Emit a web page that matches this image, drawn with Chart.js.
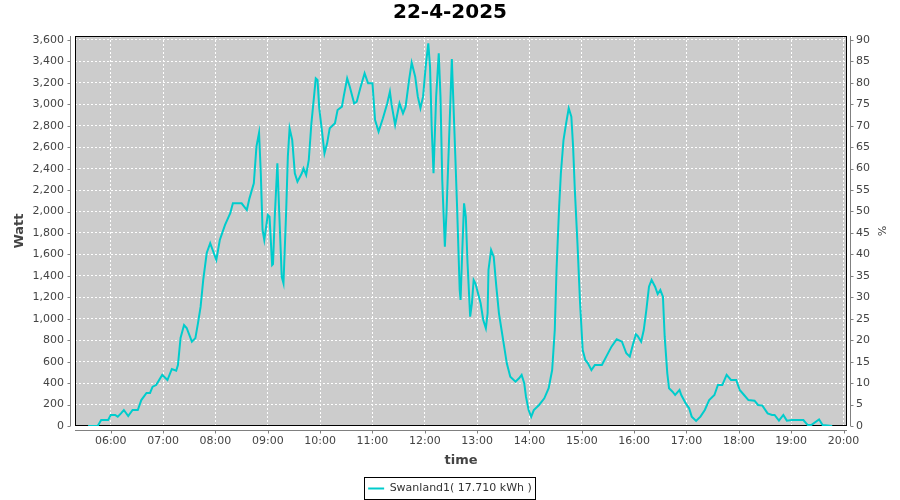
<!DOCTYPE html>
<html>
<head>
<meta charset="utf-8">
<script src="https://cdn.jsdelivr.net/npm/chart.js@4.4.1/dist/chart.umd.min.js"></script>
<style>
  html, body { margin: 0; padding: 0; background: #fff; }
</style>
</head>
<body>
<canvas id="myChart" width="900" height="500"></canvas>
<script>
const chartTitle = "22-4-2025";
const seriesLabel = "Swanland1( 17.710 kWh )";
const hourTicks = [6, 7, 8, 9, 10, 11, 12, 13, 14, 15, 16, 17, 18, 19, 20];
const wattTicks = [0, 200, 400, 600, 800, 1000, 1200, 1400, 1600, 1800, 2000,
  2200, 2400, 2600, 2800, 3000, 3200, 3400, 3600];
const percentTicks = [0, 5, 10, 15, 20, 25, 30, 35, 40, 45, 50, 55, 60, 65, 70,
  75, 80, 85, 90];

const times = [
  "05:34","05:45","05:49","05:57","06:00","06:05","06:08","06:12","06:15","06:20",
  "06:25","06:31","06:35","06:41","06:45","06:48","06:52","06:59","07:05","07:10",
  "07:15","07:17","07:20","07:24","07:27","07:33","07:37","07:40","07:43","07:46",
  "07:50","07:54","08:01","08:05","08:11","08:17","08:20","08:30","08:36","08:39",
  "08:44","08:47","08:50","08:52","08:54","08:56","09:00","09:02","09:05","09:06",
  "09:08","09:11","09:13","09:16","09:18","09:21","09:23","09:25","09:28","09:31",
  "09:34","09:39","09:41","09:44","09:47","09:50","09:53","09:55","09:57","09:59",
  "10:02","10:05","10:08","10:11","10:17","10:20","10:25","10:27","10:31","10:34",
  "10:39","10:42","10:46","10:51","10:55","11:00","11:03","11:07","11:12","11:17",
  "11:20","11:22","11:26","11:31","11:35","11:38","11:42","11:45","11:49","11:52",
  "11:55","11:58","12:01","12:04","12:06","12:08","12:10","12:13","12:16","12:18",
  "12:20","12:23","12:25","12:29","12:31","12:35","12:37","12:40","12:41","12:43",
  "12:45","12:47","12:49","12:52","12:54","12:56","12:58","13:01","13:04","13:07",
  "13:10","13:12","13:13","13:16","13:19","13:22","13:25","13:28","13:31","13:34",
  "13:38","13:44","13:48","13:51","13:54","13:56","13:59","14:02","14:05","14:11",
  "14:17","14:22","14:26","14:29","14:31","14:34","14:36","14:39","14:42","14:45",
  "14:48","14:50","14:52","14:55","14:58","15:01","15:04","15:07","15:11","15:15",
  "15:23","15:28","15:34","15:40","15:46","15:51","15:55","15:59","16:02","16:04",
  "16:08","16:11","16:14","16:17","16:20","16:24","16:27","16:30","16:33","16:35",
  "16:38","16:40","16:44","16:47","16:52","16:54","16:59","17:03","17:06","17:11",
  "17:16","17:21","17:26","17:32","17:36","17:41","17:46","17:51","17:57","18:01",
  "18:06","18:11","18:18","18:22","18:27","18:33","18:38","18:41","18:46","18:51",
  "18:55","19:01","19:14","19:19","19:23","19:32","19:36","19:47"
];

const watts = [
  0,0,56,56,103,103,87,120,149,93,
  149,149,242,308,308,367,382,476,429,532,
  516,569,821,942,914,786,820,960,1113,1362,
  1613,1704,1548,1735,1875,1984,2077,2077,2014,2123,
  2263,2605,2735,2357,1828,1735,1968,1952,1501,1510,
  1952,2450,2014,1392,1331,1984,2512,2776,2667,2357,
  2279,2357,2403,2341,2481,2823,3071,3242,3227,2963,
  2760,2543,2636,2776,2823,2947,2978,3071,3242,3164,
  3009,3024,3149,3289,3196,3196,2854,2745,2870,3009,
  3118,2994,2807,3009,2916,2978,3227,3388,3258,3071,
  2963,3071,3351,3569,3351,2760,2357,3071,3476,3071,
  2294,1672,2014,2947,3422,2512,2045,1268,1175,1641,
  2077,1952,1517,1019,1144,1362,1331,1238,1144,989,
  911,1051,1455,1641,1579,1299,1051,895,740,584,
  460,413,445,476,398,273,149,87,149,196,
  258,352,522,895,1455,2045,2357,2667,2823,2963,
  2885,2605,2201,1704,1144,709,616,584,522,569,
  569,647,740,809,786,678,647,771,855,840,
  786,895,1082,1299,1362,1299,1231,1268,1206,833,
  491,352,320,289,336,289,212,165,87,47,
  87,149,242,289,382,382,476,429,429,336,
  289,242,236,196,190,118,103,103,50,103,
  50,56,56,9,9,62,9,0
];

function toMinutes(t) {
  const p = t.split(":");
  return Number(p[0]) * 60 + Number(p[1]);
}

function hourLabel(m) {
  const h = Math.round(m / 60);
  return (h < 10 ? "0" : "") + h + ":00";
}

const plotFrame = {
  id: "plotFrame",
  beforeDraw(chart) {
    const { ctx, chartArea: a } = chart;
    ctx.save();
    ctx.fillStyle = "#ffffff";
    ctx.fillRect(0, 0, chart.width, chart.height);
    ctx.fillStyle = "#cccccc";
    ctx.fillRect(a.left, a.top, a.right - a.left, a.bottom - a.top);
    ctx.restore();
  },
  beforeDatasetsDraw(chart) {
    const { ctx, chartArea: a, scales } = chart;
    ctx.save();
    ctx.strokeStyle = "#000";
    ctx.lineWidth = 1;
    ctx.strokeRect(Math.round(a.left) + 0.5, Math.round(a.top) + 0.5,
      Math.round(a.right - a.left) - 1, Math.round(a.bottom - a.top) - 1);

    // axis lines sit a few pixels away from the plot, like the original
    ctx.strokeStyle = "#808080";
    const lx = Math.round(a.left) - 4.5;
    const rx = Math.round(a.right) + 3.5;
    const by = Math.round(a.bottom) + 4.5;
    ctx.beginPath();
    ctx.moveTo(lx, a.top); ctx.lineTo(lx, a.bottom);
    ctx.moveTo(rx, a.top); ctx.lineTo(rx, a.bottom);
    ctx.moveTo(a.left, by); ctx.lineTo(a.right, by);
    scales.y.ticks.forEach(t => {
      const py = Math.round(scales.y.getPixelForValue(t.value)) + 0.5;
      ctx.moveTo(lx - 3, py); ctx.lineTo(lx, py);
    });
    scales.y1.ticks.forEach(t => {
      const py = Math.round(scales.y1.getPixelForValue(t.value)) + 0.5;
      ctx.moveTo(rx, py); ctx.lineTo(rx + 3, py);
    });
    scales.x.ticks.forEach(t => {
      const px = Math.round(scales.x.getPixelForValue(t.value)) + 0.5;
      ctx.moveTo(px, by); ctx.lineTo(px, by + 3);
    });
    ctx.stroke();
    ctx.restore();
  },
  afterDraw(chart) {
    const { ctx } = chart;
    const hb = chart.legend.legendHitBoxes[0];
    if (!hb) return;
    const cy = hb.top + hb.height / 2;
    ctx.save();
    ctx.strokeStyle = "#000";
    ctx.lineWidth = 1;
    ctx.strokeRect(Math.round(hb.left) - 3.5, Math.round(cy) - 11.5,
      Math.round(hb.width) + 7, 22);
    ctx.restore();
  }
};

Chart.defaults.font.family = "'DejaVu Sans', sans-serif";

new Chart(document.getElementById("myChart"), {
  type: "line",
  data: {
    datasets: [
      {
        label: seriesLabel,
        data: times.map((t, i) => ({ x: toMinutes(t), y: watts[i] })),
        borderColor: "#00cccc",
        backgroundColor: "#00cccc",
        borderWidth: 2,
        pointRadius: 0,
        tension: 0,
        fill: false,
        yAxisID: "y"
      }
    ]
  },
  options: {
    responsive: false,
    animation: false,
    layout: { padding: { top: 0, left: 0, right: 0, bottom: -4 } },
    plugins: {
      title: {
        display: true,
        text: chartTitle,
        color: "#000",
        font: { size: 20, weight: "bold" },
        padding: { top: 1, bottom: 11 }
      },
      legend: {
        position: "bottom",
        labels: {
          usePointStyle: true,
          pointStyle: "line",
          pointStyleWidth: 16,
          color: "#333",
          font: { size: 11 },
          padding: 10
        }
      },
      tooltip: { enabled: false }
    },
    scales: {
      x: {
        type: "linear",
        position: "bottom",
        min: 319,
        max: 1204,
        afterBuildTicks: scale => {
          scale.ticks = hourTicks.map(h => ({ value: h * 60 }));
        },
        afterFit: scale => { scale.height = 47; },
        ticks: {
          autoSkip: false,
          maxRotation: 0,
          padding: 9,
          color: "#444",
          font: { size: 11 },
          callback: v => hourLabel(v)
        },
        grid: { color: "#ffffff", lineWidth: 1, drawTicks: false, borderDash: [2, 2] },
        border: { display: false, dash: [2, 2] },
        title: {
          display: true,
          text: "time",
          color: "#444",
          font: { size: 13, weight: "bold" },
          padding: { top: 0, bottom: 5 }
        }
      },
      y: {
        position: "left",
        min: 0,
        max: 3637,
        afterBuildTicks: scale => {
          scale.ticks = wattTicks.map(v => ({ value: v }));
        },
        afterFit: scale => { scale.width = 75; },
        ticks: {
          autoSkip: false,
          padding: 11,
          color: "#444",
          font: { size: 11 },
          callback: v => v.toLocaleString("en-US")
        },
        grid: { color: "#ffffff", lineWidth: 1, drawTicks: false, borderDash: [2, 2] },
        border: { display: false, dash: [2, 2] },
        title: {
          display: true,
          text: "Watt",
          color: "#444",
          font: { size: 13, weight: "bold" },
          padding: { top: 12, bottom: 0 }
        }
      },
      y1: {
        position: "right",
        min: 0,
        max: 90.9,
        afterBuildTicks: scale => {
          scale.ticks = percentTicks.map(v => ({ value: v }));
        },
        afterFit: scale => { scale.width = 53; },
        ticks: {
          autoSkip: false,
          padding: 9,
          color: "#444",
          font: { size: 11 }
        },
        grid: { display: false, drawTicks: false },
        border: { display: false },
        title: {
          display: true,
          text: "%",
          color: "#444",
          font: { size: 11 },
          padding: { top: 13, bottom: 0 }
        }
      }
    }
  },
  plugins: [plotFrame]
});
</script>
</body>
</html>
